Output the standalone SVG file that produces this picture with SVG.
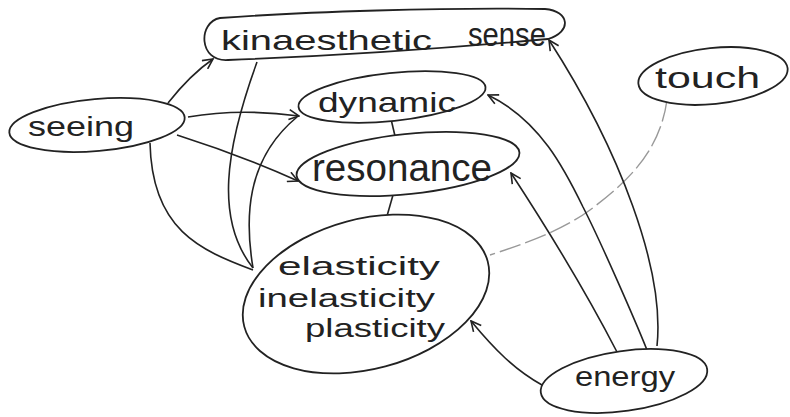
<svg xmlns="http://www.w3.org/2000/svg" width="790" height="417" viewBox="0 0 790 417">
<defs>
<marker id="arr" viewBox="0 0 12 12" refX="11" refY="6" markerWidth="12" markerHeight="12" markerUnits="userSpaceOnUse" orient="auto">
<path d="M1,1 L11,6 L1,11" fill="none" stroke="#222" stroke-width="1.6"/>
</marker>
</defs>
<style>
.n{fill:#fff;stroke:#222;stroke-width:1.8}
.t{font-family:"Liberation Sans","DejaVu Sans",sans-serif;fill:#222}
.c{fill:none;stroke:#222;stroke-width:1.6}
.a{marker-end:url(#arr)}
.g{fill:none;stroke:#999;stroke-width:1.4;stroke-dasharray:22 5}
</style>
<rect width="790" height="417" fill="#fff"/>
<g id="connectors">
<path class="c a" d="M168,103 Q190,75 213,59"/>
<path class="c a" d="M188,117 Q240,108 299,116"/>
<path class="c a" d="M177,135 Q240,155 298,181"/>
<path class="c" d="M150,143 C152,230 200,250 253,270"/>
<path class="c" d="M257,62 C225,150 215,220 253,268"/>
<path class="c" d="M253,268 C245,220 245,160 297,117"/>
<path class="c" d="M391,119 L395,136"/>
<path class="c" d="M393,195 L387,216"/>
<path class="g" d="M667,100 C660,150 630,180 590,210 C560,232 520,245 490,255"/>
<path class="c a" d="M542,385 C515,370 495,350 471,321"/>
<path class="c a" d="M617,352 C585,290 545,225 511,173"/>
<path class="c a" d="M647,350 C635,320 600,240 583,207 C565,170 540,120 488,95"/>
<path class="c a" d="M657,346 C665,270 620,150 549,40"/>
</g>
<g id="kinaesthetic">
<path class="n" d="M220,18 C300,12 450,7 545,9 C570,11 572,32 548,39 C450,48 330,56 228,60 C198,62 198,22 220,18 Z"/>
<text class="t" x="221" y="50" font-size="28" textLength="211" lengthAdjust="spacingAndGlyphs">kinaesthetic</text>
<text class="t" x="468" y="46" font-size="34" textLength="78" lengthAdjust="spacingAndGlyphs">sense</text>
</g>
<g id="seeing">
<ellipse class="n" cx="97" cy="125" rx="88" ry="26" transform="rotate(-5 97 125)"/>
<text class="t" x="28" y="136" font-size="28" textLength="106" lengthAdjust="spacingAndGlyphs">seeing</text>
</g>
<g id="dynamic">
<ellipse class="n" cx="392" cy="97" rx="94" ry="24" transform="rotate(-6 392 97)"/>
<text class="t" x="318" y="112" font-size="28" textLength="138" lengthAdjust="spacingAndGlyphs">dynamic</text>
</g>
<g id="resonance">
<ellipse class="n" cx="408" cy="164" rx="112" ry="30" transform="rotate(-6 408 164)"/>
<text class="t" x="312" y="181" font-size="38" textLength="180" lengthAdjust="spacingAndGlyphs">resonance</text>
</g>
<g id="touch">
<ellipse class="n" cx="713" cy="76" rx="75" ry="28" transform="rotate(-6 713 76)"/>
<text class="t" x="655" y="88" font-size="30" textLength="105" lengthAdjust="spacingAndGlyphs">touch</text>
</g>
<g id="elasticity">
<ellipse class="n" cx="366" cy="294" rx="126" ry="75" transform="rotate(-15 366 294)"/>
<text class="t" x="278" y="275" font-size="26" textLength="162" lengthAdjust="spacingAndGlyphs">elasticity</text>
<text class="t" x="258" y="307" font-size="26" textLength="177" lengthAdjust="spacingAndGlyphs">inelasticity</text>
<text class="t" x="305" y="337" font-size="25" textLength="140" lengthAdjust="spacingAndGlyphs">plasticity</text>
</g>
<g id="energy">
<ellipse class="n" cx="624" cy="381" rx="84" ry="30" transform="rotate(-8 624 381)"/>
<text class="t" x="575" y="386" font-size="28" textLength="100" lengthAdjust="spacingAndGlyphs">energy</text>
</g>
</svg>
